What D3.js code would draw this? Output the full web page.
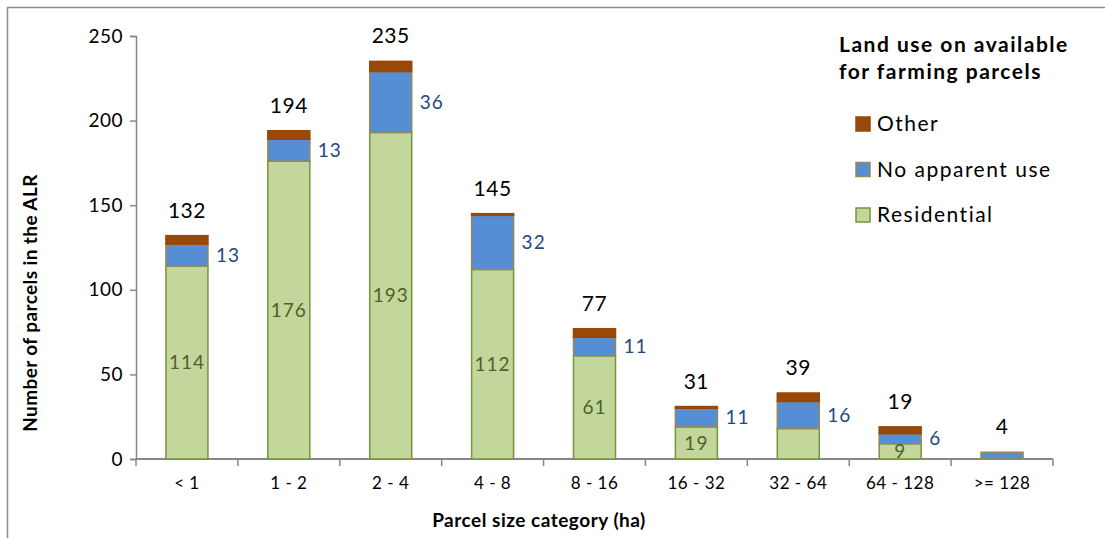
<!DOCTYPE html>
<html><head><meta charset="utf-8">
<script src="https://cdn.jsdelivr.net/npm/d3@7"></script>
<style>body{margin:0;background:#fff}svg{display:block}text{font-family:Lato,"Open Sans",sans-serif}</style>
</head><body>
<script>
const categories = ["< 1","1 - 2","2 - 4","4 - 8","8 - 16","16 - 32","32 - 64","64 - 128",">= 128"];
const residential = [114,176,193,112,61,19,18,9,0];
const noApparentUse = [13,13,36,32,11,11,16,6,4];
const other = [5,5,6,1,5,1,5,4,0];
const totals = [132,194,235,145,77,31,39,19,4];
const residentialLabels = [114,176,193,112,61,19,null,9,null];
const noApparentLabels = [13,13,36,32,11,11,16,6,null];
const yTicks = [0,50,100,150,200,250];
const seriesNames = ["Residential","No apparent use","Other"];
const legendTitle = ["Land use on available","for farming parcels"];
const xTitle = "Parcel size category (ha)";
const yTitle = "Number of parcels in the ALR";

const W=1105,H=538;
const svg=d3.select("body").append("svg").attr("width",W).attr("height",H);
svg.append("rect").attr("x",7.5).attr("y",7.5).attr("width",W).attr("height",H)
  .attr("fill","none").attr("stroke","#8c8c8c").attr("stroke-width",1.5);

const x=d3.scaleBand().domain(categories).range([136,1053]).padding(0);
const y=d3.scaleLinear().domain([0,250]).range([459,36]);
const bw=x.bandwidth(), barW=42;
const colors={"Residential":"#C3D69B","No apparent use":"#558ED5","Other":"#984807"};
const strokes={"Residential":"#77933C","No apparent use":"#948A54","Other":"#984807"};

const rows=categories.map((c,i)=>({cat:c,"Residential":residential[i],"No apparent use":noApparentUse[i],"Other":other[i]}));
const stack=d3.stack().keys(seriesNames)(rows);

// axes
const axisColor="#868686";
const yAxis=svg.append("g").attr("transform","translate(136,0)")
  .call(d3.axisLeft(y).tickValues(yTicks).tickSize(6).tickPadding(7));
yAxis.select(".domain").attr("stroke",axisColor).attr("stroke-width",1.5);
yAxis.selectAll(".tick line").attr("stroke",axisColor).attr("stroke-width",1.5);
yAxis.selectAll(".tick text").attr("font-size",19).attr("letter-spacing",0.5).attr("fill","#000");

const xAxisG=svg.append("g").attr("transform","translate(0,459)");
xAxisG.append("line").attr("x1",136).attr("x2",1053).attr("stroke",axisColor).attr("stroke-width",2);
const bounds=categories.map(c=>x(c)).concat([x(categories[categories.length-1])+bw]);
xAxisG.selectAll("line.t").data(bounds).join("line").attr("class","t")
  .attr("x1",d=>d).attr("x2",d=>d).attr("y1",0).attr("y2",7).attr("stroke",axisColor).attr("stroke-width",1.5);
xAxisG.selectAll("text").data(categories).join("text")
  .attr("x",d=>x(d)+bw/2).attr("y",30).attr("text-anchor","middle").attr("font-size",17).attr("letter-spacing",0.5).attr("fill","#000").text(d=>d);

// bars
stack.forEach(s=>{
  svg.append("g").selectAll("rect").data(s).join("rect")
    .attr("x",d=>x(d.data.cat)+(bw-barW)/2)
    .attr("y",d=>y(d[1]))
    .attr("width",barW)
    .attr("height",d=>Math.max(0,y(d[0])-y(d[1])))
    .attr("fill",colors[s.key]).attr("stroke",strokes[s.key]).attr("stroke-width",1.5)
    .style("display",d=>(d[1]-d[0])>0?null:"none");
});

// labels
svg.append("g").selectAll("text").data(categories).join("text")
  .attr("x",c=>x(c)+bw/2).attr("y",(c,i)=>y(totals[i])-18)
  .attr("text-anchor","middle").attr("font-size",21).attr("letter-spacing",0.5).attr("fill","#000").text((c,i)=>totals[i]);
svg.append("g").selectAll("text").data(categories).join("text")
  .attr("x",c=>x(c)+bw/2).attr("y",(c,i)=>y(residential[i]/2))
  .attr("dy","0.35em").attr("text-anchor","middle").attr("font-size",19).attr("letter-spacing",1).attr("fill","#4F6228")
  .text((c,i)=>residentialLabels[i]===null?"":residentialLabels[i]);
svg.append("g").selectAll("text").data(categories).join("text")
  .attr("x",c=>x(c)+(bw+barW)/2+8).attr("y",(c,i)=>y(residential[i]+noApparentUse[i]/2))
  .attr("dy","0.35em").attr("text-anchor","start").attr("font-size",19).attr("letter-spacing",1).attr("fill","#1F497D")
  .text((c,i)=>noApparentLabels[i]===null?"":noApparentLabels[i]);

// titles
svg.append("text").attr("x",539).attr("y",527).attr("text-anchor","middle")
  .attr("font-size",19).attr("letter-spacing",0.5).attr("font-weight","bold").attr("fill","#000").text(xTitle);
svg.append("text").attr("transform","translate(37,303) rotate(-90)").attr("text-anchor","middle")
  .attr("font-size",19).attr("letter-spacing",0.4).attr("font-weight","bold").attr("fill","#000").text(yTitle);

// legend
const lg=svg.append("g");
lg.selectAll("text.t").data(legendTitle).join("text").attr("class","t")
  .attr("x",839).attr("y",(d,i)=>45+i*27).attr("dy","0.35em").attr("font-size",21).attr("letter-spacing",1.5).attr("font-weight","bold").attr("fill","#000").text(d=>d);
const legItems=["Other","No apparent use","Residential"];
legItems.forEach((k,i)=>{
  const cy=124+i*45.5;
  lg.append("rect").attr("x",856).attr("y",cy-7).attr("width",14).attr("height",14)
    .attr("fill",colors[k]).attr("stroke",strokes[k]).attr("stroke-width",1.5);
  lg.append("text").attr("x",877).attr("y",cy).attr("dy","0.35em").attr("font-size",21).attr("letter-spacing",1.5).attr("fill","#000").text(k);
});
</script>
</body></html>
